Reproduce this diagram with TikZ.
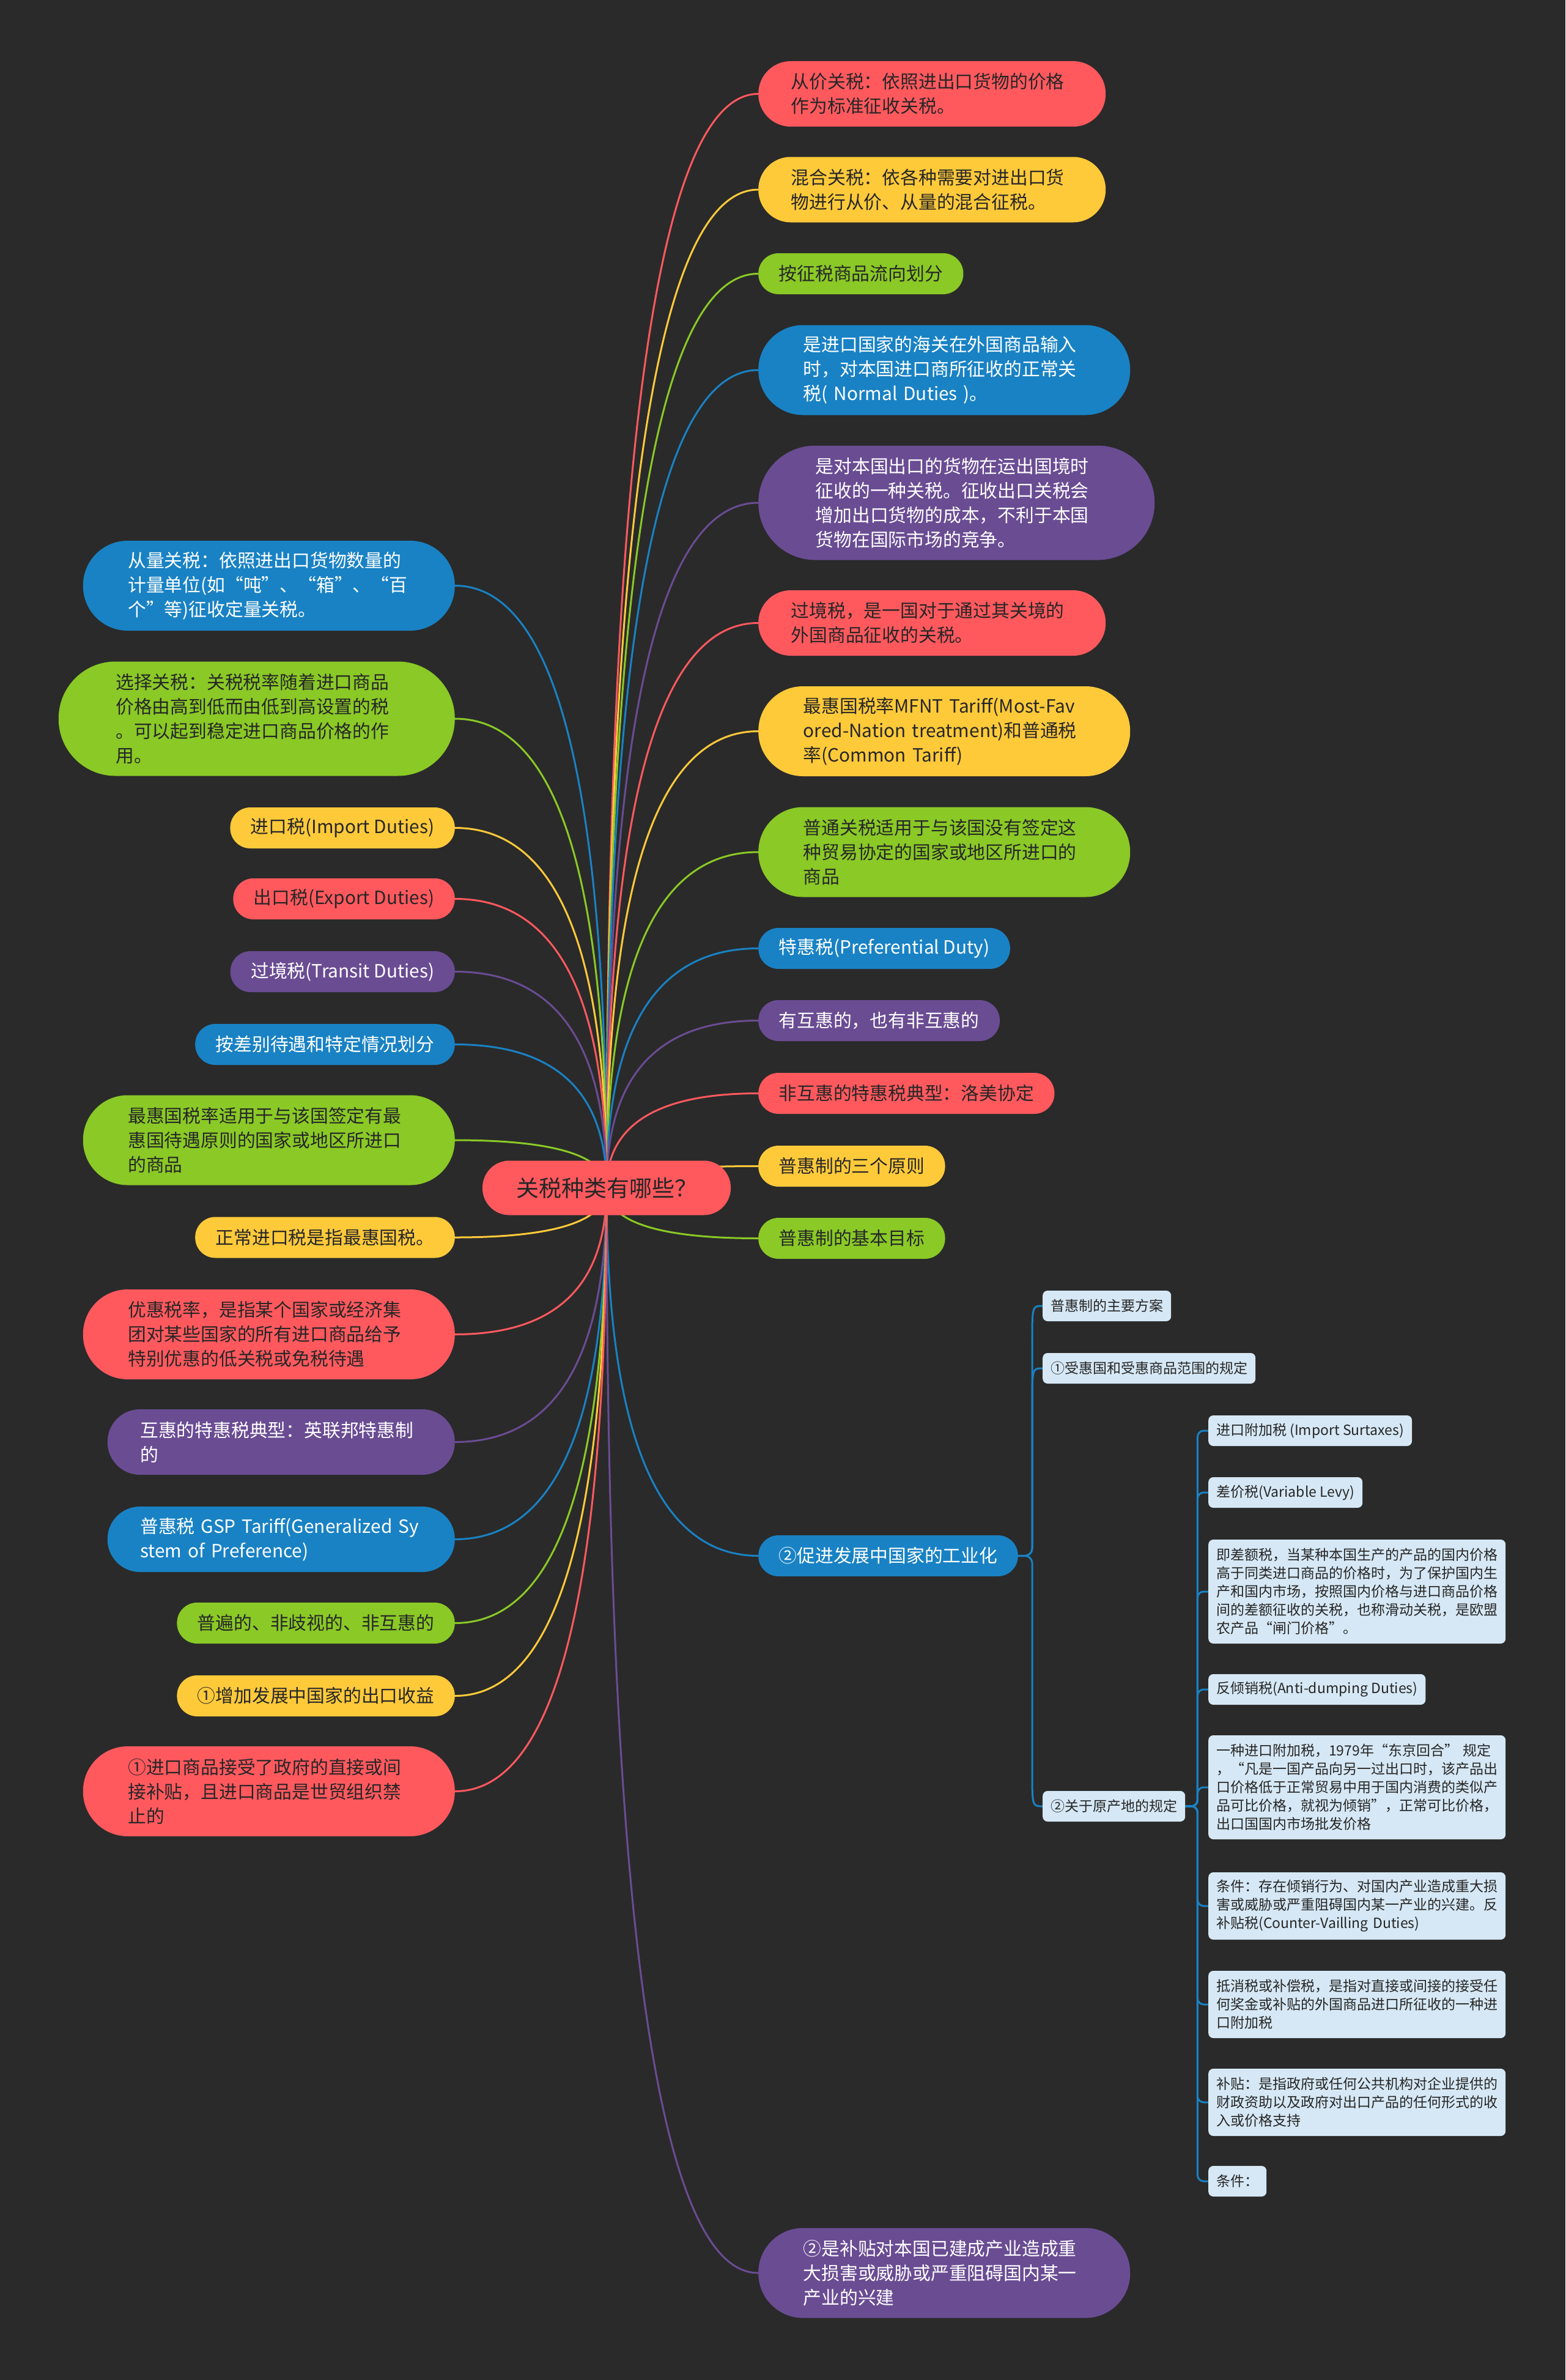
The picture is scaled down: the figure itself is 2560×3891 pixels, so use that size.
\documentclass[tikz,border=0pt]{standalone}
\usepackage{fontspec}
\setmainfont{Noto Sans CJK SC}
\usetikzlibrary{calc}
\pgfdeclarelayer{background}
\pgfsetlayers{background,main}
\definecolor{bgc}{HTML}{2A2A2A}
\definecolor{cred}{HTML}{FF595E}
\definecolor{cyel}{HTML}{FFCA3A}
\definecolor{cgrn}{HTML}{8AC926}
\definecolor{cblu}{HTML}{1982C4}
\definecolor{cpur}{HTML}{6A4C93}
\definecolor{clight}{HTML}{D6E8F5}
\definecolor{dtext}{HTML}{262626}
\tikzset{
 mmnode/.style={rectangle, inner ysep=0pt, font=\fontsize{29.8pt}{40pt}\selectfont},
 oneline/.style={mmnode, minimum height=67pt, rounded corners=33pt, inner xsep=33.5pt},
 twoline/.style={mmnode, minimum height=107pt, rounded corners=53pt, inner xsep=53.5pt, text width=461pt, align=left},
 threeline/.style={mmnode, minimum height=147pt, rounded corners=73pt, inner xsep=73.5pt, text width=461pt, align=left},
 fourline/.style={mmnode, minimum height=187pt, rounded corners=93pt, inner xsep=93.5pt, text width=461pt, align=left},
 onred/.style={fill=cred, text=dtext},
 onyel/.style={fill=cyel, text=dtext},
 ongrn/.style={fill=cgrn, text=dtext},
 onblu/.style={fill=cblu, text=white},
 onpur/.style={fill=cpur, text=white},
 rightkid/.style={anchor=west},
 leftkid/.style={anchor=east},
 lightnode/.style={rectangle, fill=clight, text=dtext, rounded corners=8pt, inner xsep=13pt, inner ysep=0pt, anchor=west, font=\fontsize{23pt}{30pt}\selectfont},
 lightone/.style={lightnode, minimum height=50pt},
 lightthree/.style={lightnode, minimum height=110pt, text width=460pt, align=left},
 lightfive/.style={lightnode, minimum height=170pt, text width=460pt, align=left},
 mainlink/.style={line width=3pt},
 sublink/.style={cblu, line width=3pt},
}
\newcommand{\mmlink}[3]{%
  \path (ctr.center |- #2.#3) coordinate (mmk);
  \draw[mainlink, #1] (ctr.center) .. controls ($(ctr.center)!0.667!(mmk)$) and ($(#2.#3)!0.667!(mmk)$) .. (#2.#3);%
}
\begin{document}
\begin{tikzpicture}[x=1pt,y=-1pt]
\begin{pgfonlayer}{background}
\fill[bgc] (0,0) rectangle (2560,3891);
\end{pgfonlayer}
\useasboundingbox (0,0) rectangle (2560,3891);

% central node
\node[rectangle, fill=cred, text=dtext, font=\fontsize{37pt}{44pt}\selectfont, minimum height=89pt, inner xsep=55pt, inner ysep=0pt, rounded corners=44pt] (ctr) at (992,1942) {关税种类有哪些？};

% right children
\node[twoline, onred, rightkid] (r1) at (1240,153.5) {从价关税：依照进出口货物的价格\\作为标准征收关税。};
\node[twoline, onyel, rightkid] (r2) at (1240,310) {混合关税：依各种需要对进出口货\\物进行从价、从量的混合征税。};
\node[oneline, ongrn, rightkid] (r3) at (1240,447.5) {按征税商品流向划分};
\node[threeline, onblu, rightkid] (r4) at (1240,605) {是进口国家的海关在外国商品输入\\时，对本国进口商所征收的正常关\\税( Normal Duties )。};
\node[fourline, onpur, rightkid] (r5) at (1240,822) {是对本国出口的货物在运出国境时\\征收的一种关税。征收出口关税会\\增加出口货物的成本，不利于本国\\货物在国际市场的竞争。};
\node[twoline, onred, rightkid] (r6) at (1240,1018.5) {过境税，是一国对于通过其关境的\\外国商品征收的关税。};
\node[threeline, onyel, rightkid] (r7) at (1240,1195.5) {\mbox{最惠国税率MFNT Tariff(Most-Fav}\\\mbox{ored-Nation treatment)和普通税}\\率(Common Tariff)};
\node[threeline, ongrn, rightkid] (r8) at (1240,1393) {普通关税适用于与该国没有签定这\\种贸易协定的国家或地区所进口的\\商品};
\node[oneline, onblu, rightkid] (r9) at (1240,1550.5) {特惠税(Preferential Duty)};
\node[oneline, onpur, rightkid] (r10) at (1240,1668.5) {有互惠的，也有非互惠的};
\node[oneline, onred, rightkid] (r11) at (1240,1787.5) {非互惠的特惠税典型：洛美协定};
\node[oneline, onyel, rightkid] (r12) at (1240,1906.5) {普惠制的三个原则};
\node[oneline, ongrn, rightkid] (r13) at (1240,2024.5) {普惠制的基本目标};
\node[oneline, onblu, rightkid] (r14) at (1240,2543.5) {②促进发展中国家的工业化};
\node[threeline, onpur, rightkid] (r15) at (1240,3716) {②是补贴对本国已建成产业造成重\\大损害或威胁或严重阻碍国内某一\\产业的兴建};

% left children
\node[threeline, onblu, leftkid] (l1) at (744,957.5) {从量关税：依照进出口货物数量的\\计量单位(如“吨”、“箱”、“百\\个”等)征收定量关税。};
\node[fourline, ongrn, leftkid] (l2) at (744,1175) {选择关税：关税税率随着进口商品\\价格由高到低而由低到高设置的税\\。可以起到稳定进口商品价格的作\\用。};
\node[oneline, onyel, leftkid] (l3) at (744,1353.5) {进口税(Import Duties)};
\node[oneline, onred, leftkid] (l4) at (744,1469.5) {出口税(Export Duties)};
\node[oneline, onpur, leftkid] (l5) at (744,1588.5) {过境税(Transit Duties)};
\node[oneline, onblu, leftkid] (l6) at (744,1707.5) {按差别待遇和特定情况划分};
\node[threeline, ongrn, leftkid] (l7) at (744,1864) {最惠国税率适用于与该国签定有最\\惠国待遇原则的国家或地区所进口\\的商品};
\node[oneline, onyel, leftkid] (l8) at (744,2023) {正常进口税是指最惠国税。};
\node[threeline, onred, leftkid] (l9) at (744,2181.5) {优惠税率，是指某个国家或经济集\\团对某些国家的所有进口商品给予\\特别优惠的低关税或免税待遇};
\node[twoline, onpur, leftkid] (l10) at (744,2357.5) {互惠的特惠税典型：英联邦特惠制\\的};
\node[twoline, onblu, leftkid] (l11) at (744,2516.5) {\mbox{普惠税 GSP Tariff(Generalized Sy}\\stem of Preference)};
\node[oneline, ongrn, leftkid] (l12) at (744,2653.5) {普遍的、非歧视的、非互惠的};
\node[oneline, onyel, leftkid] (l13) at (744,2772.5) {①增加发展中国家的出口收益};
\node[threeline, onred, leftkid] (l14) at (744,2928.5) {①进口商品接受了政府的直接或间\\接补贴，且进口商品是世贸组织禁\\止的};

% sub tree of r14
\node[lightone] (s1) at (1705,2135) {普惠制的主要方案};
\node[lightone] (s2) at (1705,2237) {①受惠国和受惠商品范围的规定};
\node[lightone] (s3) at (1705,2953) {②关于原产地的规定};

\node[lightone] (c1) at (1976,2339) {进口附加税 (Import Surtaxes)};
\node[lightone] (c2) at (1976,2440) {差价税(Variable Levy)};
\node[lightfive] (c3) at (1976,2602) {即差额税，当某种本国生产的产品的国内价格\\高于同类进口商品的价格时，为了保护国内生\\产和国内市场，按照国内价格与进口商品价格\\间的差额征收的关税，也称滑动关税，是欧盟\\农产品“闸门价格”。};
\node[lightone] (c4) at (1976,2762) {反倾销税(Anti-dumping Duties)};
\node[lightfive] (c5) at (1976,2922) {\mbox{一种进口附加税，1979年“东京回合” 规定}\\，“凡是一国产品向另一过出口时，该产品出\\口价格低于正常贸易中用于国内消费的类似产\\品可比价格，就视为倾销”，正常可比价格，\\出口国国内市场批发价格};
\node[lightthree] (c6) at (1976,3116) {条件：存在倾销行为、对国内产业造成重大损\\害或威胁或严重阻碍国内某一产业的兴建。反\\补贴税(Counter-Vailling Duties)};
\node[lightthree] (c7) at (1976,3277) {抵消税或补偿税，是指对直接或间接的接受任\\何奖金或补贴的外国商品进口所征收的一种进\\口附加税};
\node[lightthree] (c8) at (1976,3437) {补贴：是指政府或任何公共机构对企业提供的\\财政资助以及政府对出口产品的任何形式的收\\入或价格支持};
\node[lightone] (c9) at (1976,3566) {条件：};

\begin{pgfonlayer}{background}
% main connectors
\mmlink{cred}{r1}{west}
\mmlink{cyel}{r2}{west}
\mmlink{cgrn}{r3}{west}
\mmlink{cblu}{r4}{west}
\mmlink{cpur}{r5}{west}
\mmlink{cred}{r6}{west}
\mmlink{cyel}{r7}{west}
\mmlink{cgrn}{r8}{west}
\mmlink{cblu}{r9}{west}
\mmlink{cpur}{r10}{west}
\mmlink{cred}{r11}{west}
\mmlink{cyel}{r12}{west}
\mmlink{cgrn}{r13}{west}
\mmlink{cblu}{r14}{west}
\mmlink{cpur}{r15}{west}
\mmlink{cblu}{l1}{east}
\mmlink{cgrn}{l2}{east}
\mmlink{cyel}{l3}{east}
\mmlink{cred}{l4}{east}
\mmlink{cpur}{l5}{east}
\mmlink{cblu}{l6}{east}
\mmlink{cgrn}{l7}{east}
\mmlink{cyel}{l8}{east}
\mmlink{cred}{l9}{east}
\mmlink{cpur}{l10}{east}
\mmlink{cblu}{l11}{east}
\mmlink{cgrn}{l12}{east}
\mmlink{cyel}{l13}{east}
\mmlink{cred}{l14}{east}

% sub connectors r14 -> s*
\path (r14.east) ++(23,0) coordinate (tS);
\path ($(tS |- s1.west)+(0,60)$) coordinate (tS1);
\path ($(tS |- s2.west)+(0,60)$) coordinate (tS2);
\path ($(tS |- s3.west)+(0,-60)$) coordinate (tS3);
\draw[sublink, rounded corners=12pt] (r14.east) -- (tS) -- (tS1);
\draw[sublink] (tS1) .. controls (tS |- s1.west) .. (s1.west);
\draw[sublink, rounded corners=12pt] (r14.east) -- (tS) -- (tS2);
\draw[sublink] (tS2) .. controls (tS |- s2.west) .. (s2.west);
\draw[sublink, rounded corners=12pt] (r14.east) -- (tS) -- (tS3);
\draw[sublink] (tS3) .. controls (tS |- s3.west) .. (s3.west);

% sub connectors s3 -> c*
\path (s3.east) ++(20,0) coordinate (tC);
\foreach \k in {c1,c2,c3,c4,c5,c6,c7,c8,c9}{
  \draw[sublink, rounded corners=10pt] (s3.east) -- (tC) |- (\k.west);
}
\end{pgfonlayer}
\end{tikzpicture}
\end{document}
